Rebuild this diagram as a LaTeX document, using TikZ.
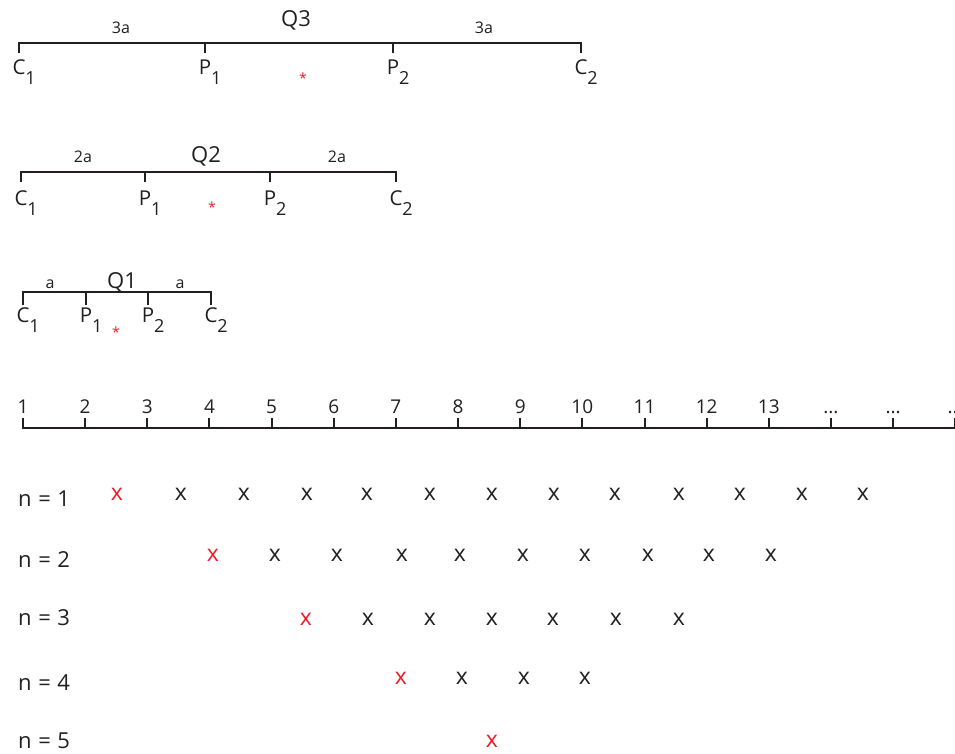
\documentclass[tikz,border=0pt]{standalone}
\usepackage{fontspec}
\setmainfont{Open Sans}
\definecolor{ink}{RGB}{35,31,32}
\definecolor{mark}{RGB}{237,28,36}
\newcommand\sublbl[2]{#1\rlap{\raisebox{-10pt}{\fontsize{18}{18}\selectfont #2}}}
\newcommand\tdots{...}
\tikzset{
  bar/.style={line width=2pt, draw=ink},
  axis/.style={line width=2.3pt, draw=ink},
  ptlab/.style={font=\fontsize{20.5}{20.5}\selectfont, text=ink, inner sep=0pt, anchor=base},
  qlab/.style={font=\fontsize{22}{22}\selectfont, text=ink, inner sep=0pt, anchor=base},
  dist/.style={font=\fontsize{16}{16}\selectfont, text=ink, inner sep=0pt, anchor=base},
  star/.style={font=\fontsize{14}{14}\selectfont, text=mark, inner sep=0pt, anchor=north},
  numlab/.style={font=\fontsize{19}{19}\selectfont, text=ink, inner sep=0pt, anchor=base},
  rowlab/.style={font=\fontsize{22}{22}\selectfont, text=ink, inner sep=0pt, anchor=base west},
  xm/.style={font=\fontsize{23}{23}\selectfont, text=ink, inner sep=0pt, anchor=center},
  xr/.style={xm, text=mark}
}
\begin{document}
\begin{tikzpicture}[x=1pt,y=-1pt]
\useasboundingbox (0,0) rectangle (955,754);
\clip (0,0) rectangle (955,754);

% ---------- Q3 ----------
\coordinate (q3c1) at (19,43);  \coordinate (q3c1b) at (19,53);
\coordinate (q3p1) at (205,43); \coordinate (q3p1b) at (205,53);
\coordinate (q3p2) at (393,43); \coordinate (q3p2b) at (393,53);
\coordinate (q3c2) at (581,43); \coordinate (q3c2b) at (581,53);
\draw[bar] (q3c1b) -- (q3c1) -- (q3c2) -- (q3c2b);
\draw[bar] (q3p1) -- (q3p1b);
\draw[bar] (q3p2) -- (q3p2b);
\node[qlab] (q3t) at (296,27) {Q3};
\node[dist] (q3d1) at (121,34) {3a};
\node[dist] (q3d2) at (484,34) {3a};
\node[ptlab] (q3lc1) at (19,75) {\sublbl{C}{1}};
\node[ptlab] (q3lp1) at (205,75) {\sublbl{P}{1}};
\node[ptlab] (q3lp2) at (393,75) {\sublbl{P}{2}};
\node[ptlab] (q3lc2) at (581,75) {\sublbl{C}{2}};
\node[star] (q3s) at (303,73) {*};

% ---------- Q2 ----------
\coordinate (q2c1) at (21,172);  \coordinate (q2c1b) at (21,182);
\coordinate (q2p1) at (145,172); \coordinate (q2p1b) at (145,182);
\coordinate (q2p2) at (270,172); \coordinate (q2p2b) at (270,182);
\coordinate (q2c2) at (396,172); \coordinate (q2c2b) at (396,182);
\draw[bar] (q2c1b) -- (q2c1) -- (q2c2) -- (q2c2b);
\draw[bar] (q2p1) -- (q2p1b);
\draw[bar] (q2p2) -- (q2p2b);
\node[qlab] (q2t) at (206,163) {Q2};
\node[dist] (q2d1) at (83,163) {2a};
\node[dist] (q2d2) at (337,163) {2a};
\node[ptlab] (q2lc1) at (21,205) {\sublbl{C}{1}};
\node[ptlab] (q2lp1) at (145,205) {\sublbl{P}{1}};
\node[ptlab] (q2lp2) at (270,205) {\sublbl{P}{2}};
\node[ptlab] (q2lc2) at (396,205) {\sublbl{C}{2}};
\node[star] (q2s) at (212,202) {*};

% ---------- Q1 ----------
\coordinate (q1c1) at (23,292);  \coordinate (q1c1b) at (23,305);
\coordinate (q1p1) at (86,292);  \coordinate (q1p1b) at (86,305);
\coordinate (q1p2) at (148,292); \coordinate (q1p2b) at (148,305);
\coordinate (q1c2) at (211,292); \coordinate (q1c2b) at (211,305);
\draw[bar] (q1c1b) -- (q1c1) -- (q1c2) -- (q1c2b);
\draw[bar] (q1p1) -- (q1p1b);
\draw[bar] (q1p2) -- (q1p2b);
\node[qlab] (q1t) at (122,288) {Q1};
\node[dist] (q1d1) at (50,288) {a};
\node[dist] (q1d2) at (180,288) {a};
\node[ptlab] (q1lc1) at (23,322) {\sublbl{C}{1}};
\node[ptlab] (q1lp1) at (86,322) {\sublbl{P}{1}};
\node[ptlab] (q1lp2) at (148,322) {\sublbl{P}{2}};
\node[ptlab] (q1lc2) at (211,322) {\sublbl{C}{2}};
\node[star] (q1s) at (116,327) {*};

% ---------- number line ----------
\coordinate (axl) at (22,428);
\coordinate (axr) at (960,428);
\draw[axis] (axl) -- (axr);
\foreach \lab [count=\i] in {1,2,3,4,5,6,7,8,9,10,11,12,13,\tdots,\tdots,\tdots}{
  \pgfmathsetmacro\tx{23+62.15*(\i-1)}
  \coordinate (tk\i) at (\tx,428);
  \coordinate (tt\i) at (\tx,418);
  \draw[axis, line width=2pt] (tk\i) -- (tt\i);
  \node[numlab] (nl\i) at (\tx,413) {\lab};
}

% ---------- rows ----------
\node[rowlab] (n1) at (18,506) {n\hspace{0.3em}=\hspace{0.3em}1};
\node[rowlab] (n2) at (18,567) {n\hspace{0.3em}=\hspace{0.3em}2};
\node[rowlab] (n3) at (18,625) {n\hspace{0.3em}=\hspace{0.3em}3};
\node[rowlab] (n4) at (18,690) {n\hspace{0.3em}=\hspace{0.3em}4};
\node[rowlab] (n5) at (18,748) {n\hspace{0.3em}=\hspace{0.3em}5};

\node[xr] (r1x1) at (117,494) {x};
\foreach \x [count=\k from 2] in {181,244,307,367,430,492,554,615,679,740,802,863}
  \node[xm] (r1x\k) at (\x,494) {x};

\node[xr] (r2x1) at (213,555) {x};
\foreach \x [count=\k from 2] in {275,337,402,460,523,585,648,709,771}
  \node[xm] (r2x\k) at (\x,555) {x};

\node[xr] (r3x1) at (306,619) {x};
\foreach \x [count=\k from 2] in {368,430,492,553,616,679}
  \node[xm] (r3x\k) at (\x,619) {x};

\node[xr] (r4x1) at (401,678) {x};
\foreach \x [count=\k from 2] in {462,524,585}
  \node[xm] (r4x\k) at (\x,678) {x};

\node[xr] (r5x1) at (492,741) {x};
\end{tikzpicture}
\end{document}
